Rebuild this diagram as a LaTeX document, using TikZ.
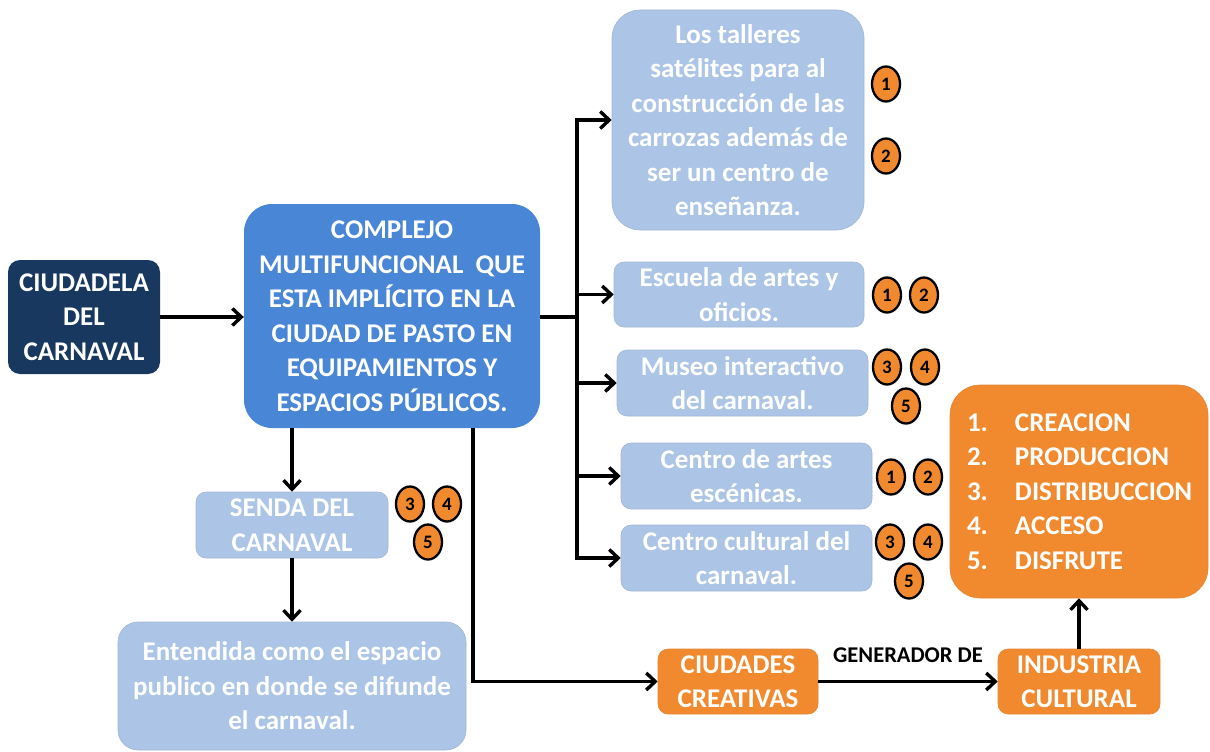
\documentclass[tikz,border=0pt]{standalone}
\usepackage{fontspec}
\setmainfont{Carlito}
\usetikzlibrary{arrows.meta,shapes.geometric}
\definecolor{navy}{RGB}{24,56,96}
\definecolor{midblue}{RGB}{74,134,214}
\definecolor{lightblue}{RGB}{172,197,230}
\definecolor{orng}{RGB}{241,138,46}
\begin{document}
\begin{tikzpicture}[x=1pt,y=-1pt,
  box/.style={rectangle,rounded corners=#1,align=center,text=white,inner sep=0pt,
    font=\fontsize{27}{34.5}\selectfont\bfseries},
  box/.default=10pt,
  dark/.style={box=12pt,fill=navy},
  main/.style={box=28pt,fill=midblue,font=\fontsize{27}{34.5}\selectfont\bfseries},
  lb/.style={box=#1,fill=lightblue,draw=lightblue!80!gray,line width=0.6pt},
  lb/.default=10pt,
  ob/.style={box=#1,fill=orng,draw=orng!85!gray,line width=0.6pt},
  ob/.default=10pt,
  num/.style={ellipse,fill=orng,draw=black,line width=2.3pt,minimum width=28pt,minimum height=35pt,
    inner sep=0pt,font=\fontsize{19}{19}\selectfont\bfseries},
  line/.style={line width=3.4pt,draw=black},
  tip/.tip={Straight Barb[length=9pt,width=17pt,line width=3.4pt]},
  arr/.style={line,-tip}
]
\useasboundingbox (0,0) rectangle (1210,752);

% nodes
\node[dark,minimum width=152pt,minimum height=114pt] (ciud) at (84,317) {CIUDADELA\\DEL\\CARNAVAL};
\node[main,minimum width=296pt,minimum height=224pt] (comp) at (392,316)
  {COMPLEJO\\MULTIFUNCIONAL\ \ QUE\\ESTA IMPLÍCITO EN LA\\CIUDAD DE PASTO EN\\EQUIPAMIENTOS Y\\ESPACIOS PÚBLICOS.};
\node[lb=28pt,minimum width=252pt,minimum height=220pt] (tall) at (738,120)
  {Los talleres\\satélites para al\\construcción de las\\carrozas además de\\ser un centro de\\enseñanza.};
\node[lb,minimum width=250pt,minimum height=65pt] (esc) at (739,294.5) {Escuela de artes y\\oficios.};
\node[lb,minimum width=251pt,minimum height=66pt] (mus) at (742.5,383) {Museo interactivo\\del carnaval.};
\node[lb,minimum width=251pt,minimum height=66pt] (cart) at (746.5,476) {Centro de artes\\escénicas.};
\node[lb,minimum width=251pt,minimum height=66pt] (ccul) at (746.5,558) {Centro cultural del\\carnaval.};
\node[lb,minimum width=192pt,minimum height=66pt] (senda) at (292,525) {SENDA DEL\\CARNAVAL};
\node[lb=20pt,minimum width=348pt,minimum height=128pt] (ent) at (292,686)
  {Entendida como el espacio\\publico en donde se difunde\\el carnaval.};
\node[ob,minimum width=160pt,minimum height=65pt] (ciudc) at (738,681.5) {CIUDADES\\CREATIVAS};
\node[ob,minimum width=162pt,minimum height=65pt] (ind) at (1079,681.5) {INDUSTRIA\\CULTURAL};
\node[ob=30pt,minimum width=258pt,minimum height=213pt,text width=224pt,align=left,inner xsep=17pt] (list) at (1079,491.5)
  {\makebox[48pt][l]{1.}CREACION\\\makebox[48pt][l]{2.}PRODUCCION\\\makebox[48pt][l]{3.}DISTRIBUCCION\\\makebox[48pt][l]{4.}ACCESO\\\makebox[48pt][l]{5.}DISFRUTE};
\node[font=\fontsize{22.5}{22.5}\selectfont\bfseries] (gen) at (908,655) {GENERADOR DE};

% number badges
\node[num] (t1) at (886,84) {1};
\node[num] (t2) at (886,156) {2};
\node[num] (e1) at (887,295) {1};
\node[num] (e2) at (924,295) {2};
\node[num] (m3) at (887,367) {3};
\node[num] (m4) at (925,367) {4};
\node[num] (m5) at (906,406) {5};
\node[num] (a1) at (891,477) {1};
\node[num] (a2) at (928,477) {2};
\node[num] (u3) at (890,542) {3};
\node[num] (u4) at (928,542) {4};
\node[num] (u5) at (909,581) {5};
\node[num] (s3) at (410,504) {3};
\node[num] (s4) at (447,504) {4};
\node[num] (s5) at (428,542) {5};

% connectors
\coordinate (jn) at (577,317);
\coordinate (dn) at (473,681.5);
\draw[arr] (ciud.east) -- (ciud.east -| comp.west);
\draw[line] (comp.east |- jn) -- (jn);
\draw[line,tip-tip] (tall.west) -| (jn) |- (ccul.west);
\draw[arr] (jn |- esc.west) -- (esc.west);
\draw[arr] (jn |- mus.west) -- (mus.west);
\draw[arr] (jn |- cart.west) -- (cart.west);
\draw[arr] (senda.north |- comp.south) -- (senda.north);
\draw[arr] (senda) -- (ent);
\draw[arr] (comp.south -| dn) -- (dn) -- (ciudc.west);
\draw[arr] (ciudc) -- (ind);
\draw[arr] (ind) -- (list);
\end{tikzpicture}
\end{document}
